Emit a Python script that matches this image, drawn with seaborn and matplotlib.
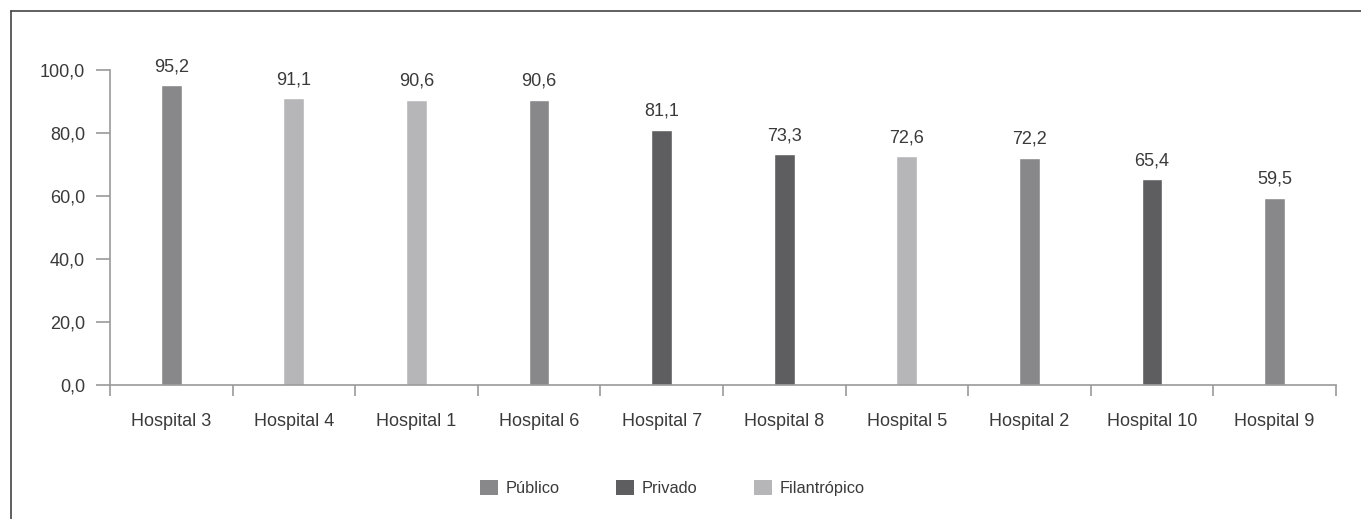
import matplotlib
matplotlib.use("Agg")
import matplotlib.pyplot as plt
from matplotlib.lines import Line2D
from matplotlib.patches import Patch
from matplotlib.ticker import FuncFormatter, FixedLocator
import seaborn as sns
import pandas as pd

hospitals = ["Hospital 3", "Hospital 4", "Hospital 1", "Hospital 6", "Hospital 7",
             "Hospital 8", "Hospital 5", "Hospital 2", "Hospital 10", "Hospital 9"]
values = [95.2, 91.1, 90.6, 90.6, 81.1, 73.3, 72.6, 72.2, 65.4, 59.5]
types = ["Público", "Filantrópico", "Filantrópico", "Público", "Privado",
         "Privado", "Filantrópico", "Público", "Privado", "Público"]
type_order = ["Público", "Privado", "Filantrópico"]
palette = {"Público": "#88888b", "Privado": "#5e5e60", "Filantrópico": "#b6b6b9"}

df = pd.DataFrame({"hospital": hospitals, "valor": values, "tipo": types})

sns.set_theme(style="white")
plt.rcParams["font.family"] = ["Liberation Sans", "DejaVu Sans"]
text_color = "#3a3a3a"
axis_color = "#9a9a9a"
fs = 13

fig = plt.figure(figsize=(13.61, 5.19), dpi=100)
ax = fig.add_axes([0.0808, 0.258, 0.9008, 0.607])

sns.barplot(data=df, x="hospital", y="valor", hue="tipo", hue_order=type_order,
            palette=palette, dodge=False, width=0.17, order=hospitals,
            saturation=1, legend=False, ax=ax)

ax.set_xlim(-0.5, len(hospitals) - 0.5)
ax.set_ylim(0, 100)
ax.set_xlabel("")
ax.set_ylabel("")

for cont in ax.containers:
    labels = [f"{b.get_height():.1f}".replace(".", ",") if b.get_height() > 0 else ""
              for b in cont]
    ax.bar_label(cont, labels=labels, padding=7, fontsize=fs, color=text_color)

for side in ["top", "right"]:
    ax.spines[side].set_visible(False)
for side in ["left", "bottom"]:
    ax.spines[side].set_color(axis_color)
    ax.spines[side].set_linewidth(1.2)

ax.yaxis.set_major_locator(FixedLocator([0, 20, 40, 60, 80, 100]))
ax.yaxis.set_major_formatter(FuncFormatter(lambda v, p: f"{v:.1f}".replace(".", ",")))
ax.tick_params(axis="y", length=10, width=1.2, color=axis_color, labelsize=fs,
               labelcolor=text_color, pad=8, left=True)

# category labels centred under bars, tick marks at category boundaries
ax.set_xticks(range(len(hospitals)))
ax.set_xticklabels(hospitals)
ax.tick_params(axis="x", which="major", length=0, labelsize=fs,
               labelcolor=text_color, pad=20)
ax.set_xticks([i - 0.5 for i in range(len(hospitals) + 1)], minor=True)
ax.tick_params(axis="x", which="minor", length=8, width=1.2, color=axis_color,
               bottom=True)

handles = [Patch(facecolor=palette[t], edgecolor="none") for t in type_order]
fig.legend(handles, type_order, loc="center", bbox_to_anchor=(0.494, 0.06), ncol=3,
           frameon=False, fontsize=11.8, labelcolor=text_color, handlelength=1.1,
           handleheight=1.1, columnspacing=3.4, handletextpad=0.5)

# outer frame lines
fx = 11 / 1361
fy = 1 - 11 / 519
fig.add_artist(Line2D([fx, fx], [0, fy], transform=fig.transFigure, color="#444444", lw=1.2))
fig.add_artist(Line2D([fx, 1], [fy, fy], transform=fig.transFigure, color="#444444", lw=1.2))

fig.savefig("out.png", dpi=100, facecolor="white")
